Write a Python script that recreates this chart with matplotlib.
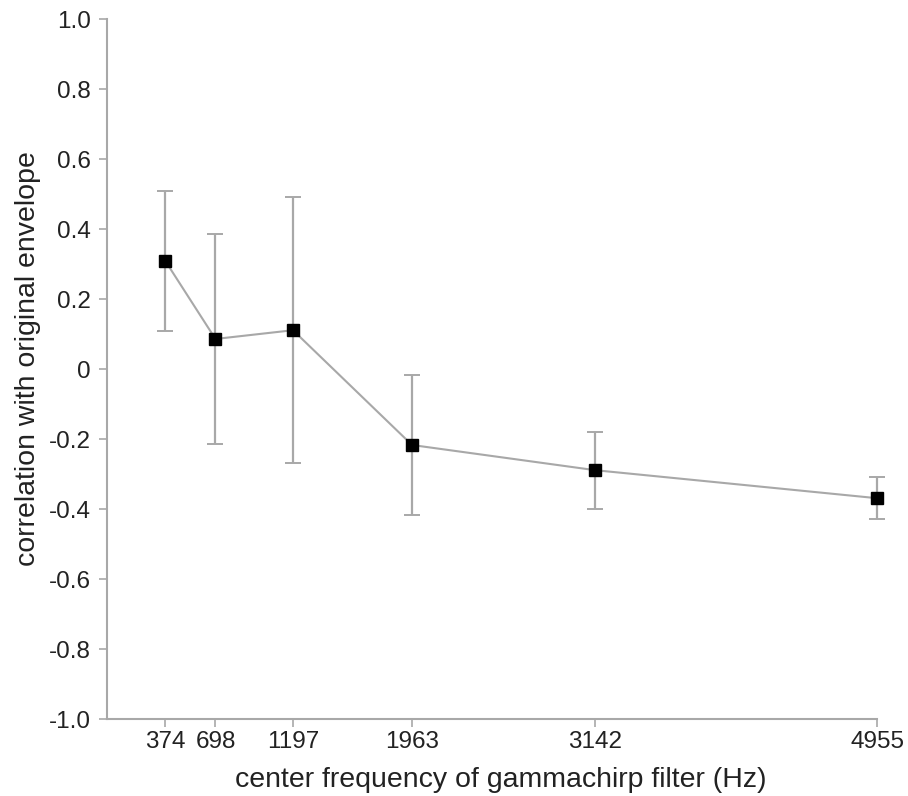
import matplotlib
matplotlib.use('Agg')
import matplotlib.pyplot as plt

# data
freqs = [374, 698, 1197, 1963, 3142, 4955]
corr = [0.31, 0.086, 0.111, -0.217, -0.289, -0.369]
err = [0.20, 0.30, 0.38, 0.20, 0.11, 0.06]
yticks = [-1.0, -0.8, -0.6, -0.4, -0.2, 0, 0.2, 0.4, 0.6, 0.8, 1.0]
ytick_labels = ['-1.0', '-0.8', '-0.6', '-0.4', '-0.2', '0',
                '0.2', '0.4', '0.6', '0.8', '1.0']

plt.rcParams['font.family'] = ['Liberation Sans', 'DejaVu Sans']

GRAY = '#a8a8a8'
TXT = '#222222'

fig = plt.figure(figsize=(9.08, 7.96), dpi=100)
ax = fig.add_axes([0.1178, 0.0967, 0.9659 - 0.1178, 0.976 - 0.0967])

ax.errorbar(freqs, corr, yerr=err, fmt='none', ecolor=GRAY,
            elinewidth=1.6, capsize=6, capthick=1.4, zorder=2, clip_on=False)
ax.plot(freqs, corr, '-', color=GRAY, lw=1.5, zorder=3, clip_on=False)
ax.plot(freqs, corr, 's', color='black', markersize=8, zorder=4, clip_on=False)

ax.set_xlim(0, 4955)
ax.set_ylim(-1.0, 1.0)
ax.set_xticks(freqs)
ax.set_xticklabels([str(f) for f in freqs])
ax.set_yticks(yticks)
ax.set_yticklabels(ytick_labels)

for side in ('top', 'right'):
    ax.spines[side].set_visible(False)
for side in ('left', 'bottom'):
    ax.spines[side].set_color(GRAY)
    ax.spines[side].set_linewidth(1.5)

ax.tick_params(axis='both', direction='out', length=5.5, width=1.2,
               color=GRAY, labelsize=17.5, labelcolor=TXT)
ax.tick_params(axis='x', pad=3)
ax.tick_params(axis='y', pad=6)

ax.set_xlabel('center frequency of gammachirp filter (Hz)', fontsize=20.5,
              color=TXT, labelpad=10)
ax.xaxis.label.set_x(0.512)
ax.set_ylabel('correlation with original envelope', fontsize=20.5,
              color=TXT, labelpad=6)
ax.yaxis.label.set_y(0.515)

plt.savefig('out.png', dpi=100, facecolor='white')
